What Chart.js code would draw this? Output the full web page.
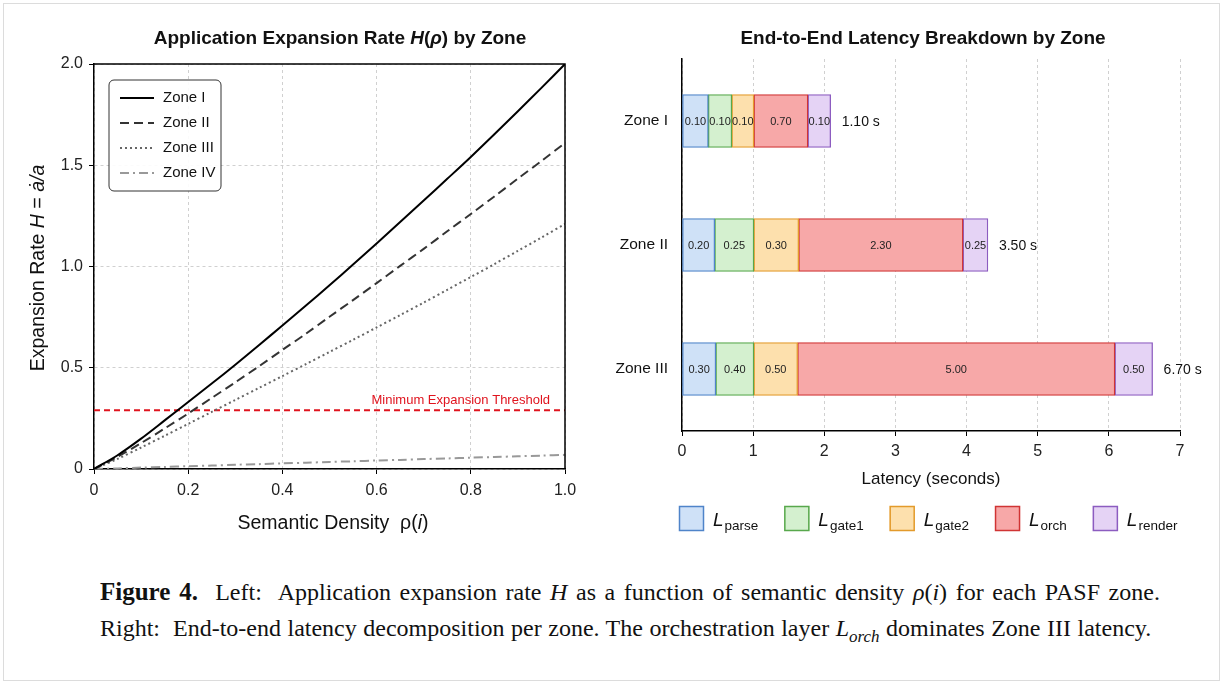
<!DOCTYPE html>
<html>
<head>
<meta charset="utf-8">
<script src="https://cdn.jsdelivr.net/npm/chart.js@4.4.1/dist/chart.umd.min.js"></script>
<style>
  html, body { margin: 0; padding: 0; background: #fff; }
  body { width: 1225px; height: 686px; position: relative; overflow: hidden; }
  #frame { position: absolute; left: 3px; top: 3px; width: 1217px; height: 678px; border: 1px solid #dcdcdc; box-sizing: border-box; }
  canvas { position: absolute; top: 0; }
  #cap { position: absolute; left: 100px; top: 574px; font-family: "Liberation Serif", serif; font-size: 24px; line-height: 36px; color: #111; white-space: nowrap; }
  #cap .l1 { word-spacing: 2.6px; }
  #cap .l2 { word-spacing: 0.5px; }
  #cap b { font-size: 25px; }
  #cap sub { font-size: 17px; vertical-align: -6px; line-height: 0; }
</style>
</head>
<body>
<div id="frame"></div>
<canvas id="left" width="600" height="560" style="left:0px"></canvas>
<canvas id="right" width="625" height="560" style="left:600px"></canvas>
<div id="cap"><span class="l1"><b>Figure 4.</b>&nbsp; Left:&nbsp; Application expansion rate <i>H</i> as a function of semantic density <i>ρ</i>(<i>i</i>) for each PASF zone.</span><br><span class="l2">Right:&nbsp; End-to-end latency decomposition per zone. The orchestration layer <i>L<sub>orch</sub></i> dominates Zone III latency.</span></div>
<script>
// ---------------- LEFT PANEL DATA ----------------
const rho     = [0, 0.05, 0.10, 0.15, 0.20, 0.25, 0.30, 0.35, 0.40, 0.45, 0.50, 0.55, 0.60, 0.65, 0.70, 0.75, 0.80, 0.85, 0.90, 0.95, 1.00];
const zoneI   = [0, 0.068, 0.150, 0.240, 0.331, 0.422, 0.515, 0.611, 0.709, 0.807, 0.907, 1.010, 1.114, 1.220, 1.326, 1.433, 1.541, 1.653, 1.767, 1.882, 2.000];
const zoneII  = [0, 0.060, 0.128, 0.200, 0.274, 0.351, 0.428, 0.507, 0.588, 0.668, 0.752, 0.834, 0.918, 1.003, 1.087, 1.174, 1.259, 1.346, 1.434, 1.521, 1.610];
const zoneIII = [0, 0.050, 0.106, 0.164, 0.223, 0.282, 0.341, 0.400, 0.459, 0.518, 0.578, 0.638, 0.699, 0.760, 0.822, 0.885, 0.948, 1.012, 1.077, 1.143, 1.210];
const zoneIV  = [0, 0.003, 0.007, 0.010, 0.014, 0.017, 0.021, 0.024, 0.028, 0.031, 0.035, 0.038, 0.042, 0.045, 0.049, 0.052, 0.056, 0.059, 0.063, 0.066, 0.070];
const threshold = 0.29;
const zoneNames = ['Zone I', 'Zone II', 'Zone III', 'Zone IV'];
const xTicks = [0, 0.2, 0.4, 0.6, 0.8, 1.0];
const yTicks = [0, 0.5, 1.0, 1.5, 2.0];

// ---------------- RIGHT PANEL DATA ----------------
const zones = ['Zone I', 'Zone II', 'Zone III'];
const layerNames = ['parse', 'gate1', 'gate2', 'orch', 'render'];
// printed segment values (s)
const valParse  = [0.10, 0.20, 0.30];
const valGate1  = [0.10, 0.25, 0.40];
const valGate2  = [0.10, 0.30, 0.50];
const valOrch   = [0.70, 2.30, 5.00];
const valRender = [0.10, 0.25, 0.50];
const totals    = [1.10, 3.50, 6.70];
// segment lengths as drawn against the latency axis in the picture
const lenParse  = [0.37, 0.46, 0.475];
const lenGate1  = [0.33, 0.55, 0.535];
const lenGate2  = [0.31, 0.63, 0.615];
const lenOrch   = [0.76, 2.31, 4.46];
const lenRender = [0.32, 0.35, 0.53];
const latTicks  = [0, 1, 2, 3, 4, 5, 6, 7];

const SANS = '"Liberation Sans", Arial, sans-serif';

function drawRich(ctx, segs, x, y, align) {
  let w = 0;
  for (const s of segs) { ctx.font = s.f; w += ctx.measureText(s.t).width; }
  let cx = align === 'center' ? x - w / 2 : (align === 'right' ? x - w : x);
  ctx.textAlign = 'left';
  ctx.textBaseline = 'alphabetic';
  for (const s of segs) {
    ctx.font = s.f;
    ctx.fillStyle = s.c || '#111';
    ctx.fillText(s.t, cx, y + (s.dy || 0));
    cx += ctx.measureText(s.t).width;
  }
  return w;
}

// ---------------- LEFT CHART ----------------
const styles = [
  { color: '#000000', dash: [] },
  { color: '#333333', dash: [9, 5] },
  { color: '#666666', dash: [2, 3] },
  { color: '#999999', dash: [9, 4, 2, 4] }
];
const series = [zoneI, zoneII, zoneIII, zoneIV];

const leftPlugin = {
  id: 'leftDeco',
  afterDraw(chart) {
    const ctx = chart.ctx;
    const a = chart.chartArea;
    ctx.save();
    ctx.strokeStyle = '#000'; ctx.lineWidth = 1.5;
    ctx.beginPath(); ctx.moveTo(a.left, a.top); ctx.lineTo(a.right, a.top); ctx.lineTo(a.right, a.bottom); ctx.stroke();
    // title
    drawRich(ctx, [
      { t: 'Application Expansion Rate ', f: 'bold 19px ' + SANS },
      { t: 'H', f: 'italic bold 19px ' + SANS },
      { t: '(', f: 'bold 19px ' + SANS },
      { t: 'ρ', f: 'italic bold 19px ' + SANS },
      { t: ') by Zone', f: 'bold 19px ' + SANS }
    ], 340, 44, 'center');
    // x title
    drawRich(ctx, [
      { t: 'Semantic Density  ρ(', f: '19.5px ' + SANS, c: '#111' },
      { t: 'i', f: 'italic 19.5px ' + SANS, c: '#111' },
      { t: ')', f: '19.5px ' + SANS, c: '#111' }
    ], 333, 529, 'center');
    // y title
    ctx.save();
    ctx.translate(44, 268);
    ctx.rotate(-Math.PI / 2);
    drawRich(ctx, [
      { t: 'Expansion Rate ', f: '19.5px ' + SANS },
      { t: 'H', f: 'italic 19.5px ' + SANS },
      { t: ' = ', f: '19.5px ' + SANS },
      { t: 'ȧ/a', f: 'italic 19.5px ' + SANS }
    ], 0, 0, 'center');
    ctx.restore();
    // threshold label
    const ty = chart.scales.y.getPixelForValue(threshold);
    ctx.font = '13px ' + SANS; ctx.fillStyle = '#e0141e'; ctx.textAlign = 'right'; ctx.textBaseline = 'alphabetic';
    ctx.fillText('Minimum Expansion Threshold', 550, ty - 6);
    // legend
    const bx = 109, by = 80, bw = 112, bh = 111, r = 5;
    ctx.beginPath();
    ctx.moveTo(bx + r, by); ctx.lineTo(bx + bw - r, by); ctx.arcTo(bx + bw, by, bx + bw, by + r, r);
    ctx.lineTo(bx + bw, by + bh - r); ctx.arcTo(bx + bw, by + bh, bx + bw - r, by + bh, r);
    ctx.lineTo(bx + r, by + bh); ctx.arcTo(bx, by + bh, bx, by + bh - r, r);
    ctx.lineTo(bx, by + r); ctx.arcTo(bx, by, bx + r, by, r); ctx.closePath();
    ctx.fillStyle = 'rgba(255,255,255,0.9)'; ctx.fill();
    ctx.strokeStyle = '#333'; ctx.lineWidth = 1; ctx.stroke();
    for (let i = 0; i < zoneNames.length; i++) {
      const yy = 98 + i * 25;
      ctx.save();
      ctx.strokeStyle = styles[i].color; ctx.lineWidth = 2; ctx.setLineDash(styles[i].dash);
      ctx.beginPath(); ctx.moveTo(120, yy); ctx.lineTo(154, yy); ctx.stroke();
      ctx.restore();
      ctx.font = '15px ' + SANS; ctx.fillStyle = '#111'; ctx.textAlign = 'left'; ctx.textBaseline = 'middle';
      ctx.fillText(zoneNames[i], 163, yy);
    }
    ctx.restore();
  }
};

const leftDatasets = series.map((s, i) => ({
  label: zoneNames[i],
  data: rho.map((x, k) => ({ x: x, y: s[k] })),
  borderColor: styles[i].color,
  borderDash: styles[i].dash,
  borderWidth: 2,
  pointRadius: 0,
  fill: false,
  tension: 0.3
}));
leftDatasets.push({
  label: 'Minimum Expansion Threshold',
  data: [{ x: 0, y: threshold }, { x: 1, y: threshold }],
  borderColor: '#e0141e',
  borderDash: [6, 4],
  borderWidth: 2,
  pointRadius: 0,
  fill: false
});

new Chart(document.getElementById('left'), {
  type: 'line',
  data: { datasets: leftDatasets },
  options: {
    responsive: false, animation: false, devicePixelRatio: 1,
    layout: { padding: { top: 64, right: 35, left: 0, bottom: 0 } },
    plugins: { legend: { display: false }, tooltip: { enabled: false } },
    scales: {
      x: {
        type: 'linear', min: 0, max: 1,
        afterBuildTicks(scale) { scale.ticks = xTicks.map(v => ({ value: v })); },
        afterFit(scale) { scale.height = 91; },
        ticks: { font: { family: SANS, size: 16 }, color: '#222', padding: 7, maxRotation: 0,
          callback: v => v === 0 ? '0' : Number(v).toFixed(1) },
        grid: { color: '#d0d0d0', lineWidth: 1, drawTicks: true, tickLength: 5, tickColor: '#000', tickWidth: 1 },
        border: { display: true, color: '#000', width: 1.5, dash: [3, 3] }
      },
      y: {
        type: 'linear', min: 0, max: 2,
        afterBuildTicks(scale) { scale.ticks = yTicks.map(v => ({ value: v })); },
        afterFit(scale) { scale.width = 94; },
        ticks: { font: { family: SANS, size: 16 }, color: '#222', padding: 6,
          callback: v => v === 0 ? '0' : Number(v).toFixed(1) },
        grid: { color: '#d0d0d0', lineWidth: 1, drawTicks: true, tickLength: 5, tickColor: '#000', tickWidth: 1 },
        border: { display: true, color: '#000', width: 1.5, dash: [3, 3] }
      }
    }
  },
  plugins: [leftPlugin]
});

// ---------------- RIGHT CHART ----------------
const fills   = ['#cfe1f7', '#d4f0cf', '#fde0ad', '#f7a8a8', '#e5d3f5'];
const borders = ['#4f84c9', '#58a84c', '#e39a2b', '#d03434', '#8c5cc0'];
const lens = [lenParse, lenGate1, lenGate2, lenOrch, lenRender];
const vals = [valParse, valGate1, valGate2, valOrch, valRender];

const rightPlugin = {
  id: 'rightDeco',
  afterDatasetsDraw(chart) {
    const ctx = chart.ctx;
    ctx.save();
    ctx.font = '11px ' + SANS; ctx.fillStyle = '#222'; ctx.textAlign = 'center'; ctx.textBaseline = 'middle';
    for (let d = 0; d < lens.length; d++) {
      const meta = chart.getDatasetMeta(d);
      meta.data.forEach((el, j) => {
        ctx.fillText(vals[d][j].toFixed(2), (el.x + el.base) / 2, el.y + 1);
      });
    }
    const last = chart.getDatasetMeta(lens.length - 1);
    ctx.font = '14px ' + SANS; ctx.fillStyle = '#111'; ctx.textAlign = 'left';
    last.data.forEach((el, j) => {
      ctx.fillText(totals[j].toFixed(2) + ' s', el.x + 11, el.y + 1);
    });
    ctx.restore();
  },
  afterDraw(chart) {
    const ctx = chart.ctx;
    const a = chart.chartArea;
    ctx.save();
    drawRich(ctx, [{ t: 'End-to-End Latency Breakdown by Zone', f: 'bold 19px ' + SANS }], 323, 44, 'center');
    drawRich(ctx, [{ t: 'Latency (seconds)', f: '17px ' + SANS, c: '#111' }], (a.left + a.right) / 2, 484, 'center');
    // legend (canvas starts at page x = 600)
    const Lf = 'italic 19px ' + SANS, sf = '13.5px ' + SANS;
    const widths = layerNames.map(n => {
      ctx.font = Lf; let w = ctx.measureText('L').width + 1;
      ctx.font = sf; w += ctx.measureText(n).width;
      return 25 + 9 + w;
    });
    const gap = 26;
    let x = 79;
    layerNames.forEach((n, k) => {
      ctx.fillStyle = fills[k]; ctx.fillRect(x, 506, 25, 25);
      ctx.strokeStyle = borders[k]; ctx.lineWidth = 1.5; ctx.strokeRect(x + 0.5, 506.5, 24, 24);
      let tx = x + 25 + 9;
      ctx.font = Lf; ctx.fillStyle = '#111'; ctx.textAlign = 'left'; ctx.textBaseline = 'alphabetic';
      ctx.fillText('L', tx, 526);
      tx += ctx.measureText('L').width + 1;
      ctx.font = sf; ctx.fillText(n, tx, 530);
      x += widths[k] + gap;
    });
    ctx.restore();
  }
};

new Chart(document.getElementById('right'), {
  type: 'bar',
  data: {
    labels: zones,
    datasets: lens.map((l, i) => ({
      label: 'L_' + layerNames[i],
      data: l,
      backgroundColor: fills[i],
      borderColor: borders[i],
      borderWidth: 1.3,
      borderSkipped: false,
      barThickness: 53
    }))
  },
  options: {
    indexAxis: 'y',
    responsive: false, animation: false, devicePixelRatio: 1,
    layout: { padding: { top: 59, right: 45, left: 0, bottom: 0 } },
    plugins: { legend: { display: false }, tooltip: { enabled: false } },
    scales: {
      x: {
        type: 'linear', min: 0, max: 7, stacked: true,
        afterBuildTicks(scale) { scale.ticks = latTicks.map(v => ({ value: v })); },
        afterFit(scale) { scale.height = 129; },
        ticks: { font: { family: SANS, size: 16 }, color: '#222', padding: 6 },
        grid: { color: '#d0d0d0', lineWidth: 1, drawTicks: true, tickLength: 5, tickColor: '#000', tickWidth: 1 },
        border: { display: true, color: '#000', width: 1.5, dash: [3, 3] }
      },
      y: {
        type: 'category', stacked: true,
        afterFit(scale) { scale.width = 82; },
        ticks: { font: { family: SANS, size: 15.5 }, color: '#111', padding: 14 },
        grid: { display: false, drawTicks: false },
        border: { display: true, color: '#000', width: 1.5 }
      }
    }
  },
  plugins: [rightPlugin]
});
</script>
</body>
</html>
